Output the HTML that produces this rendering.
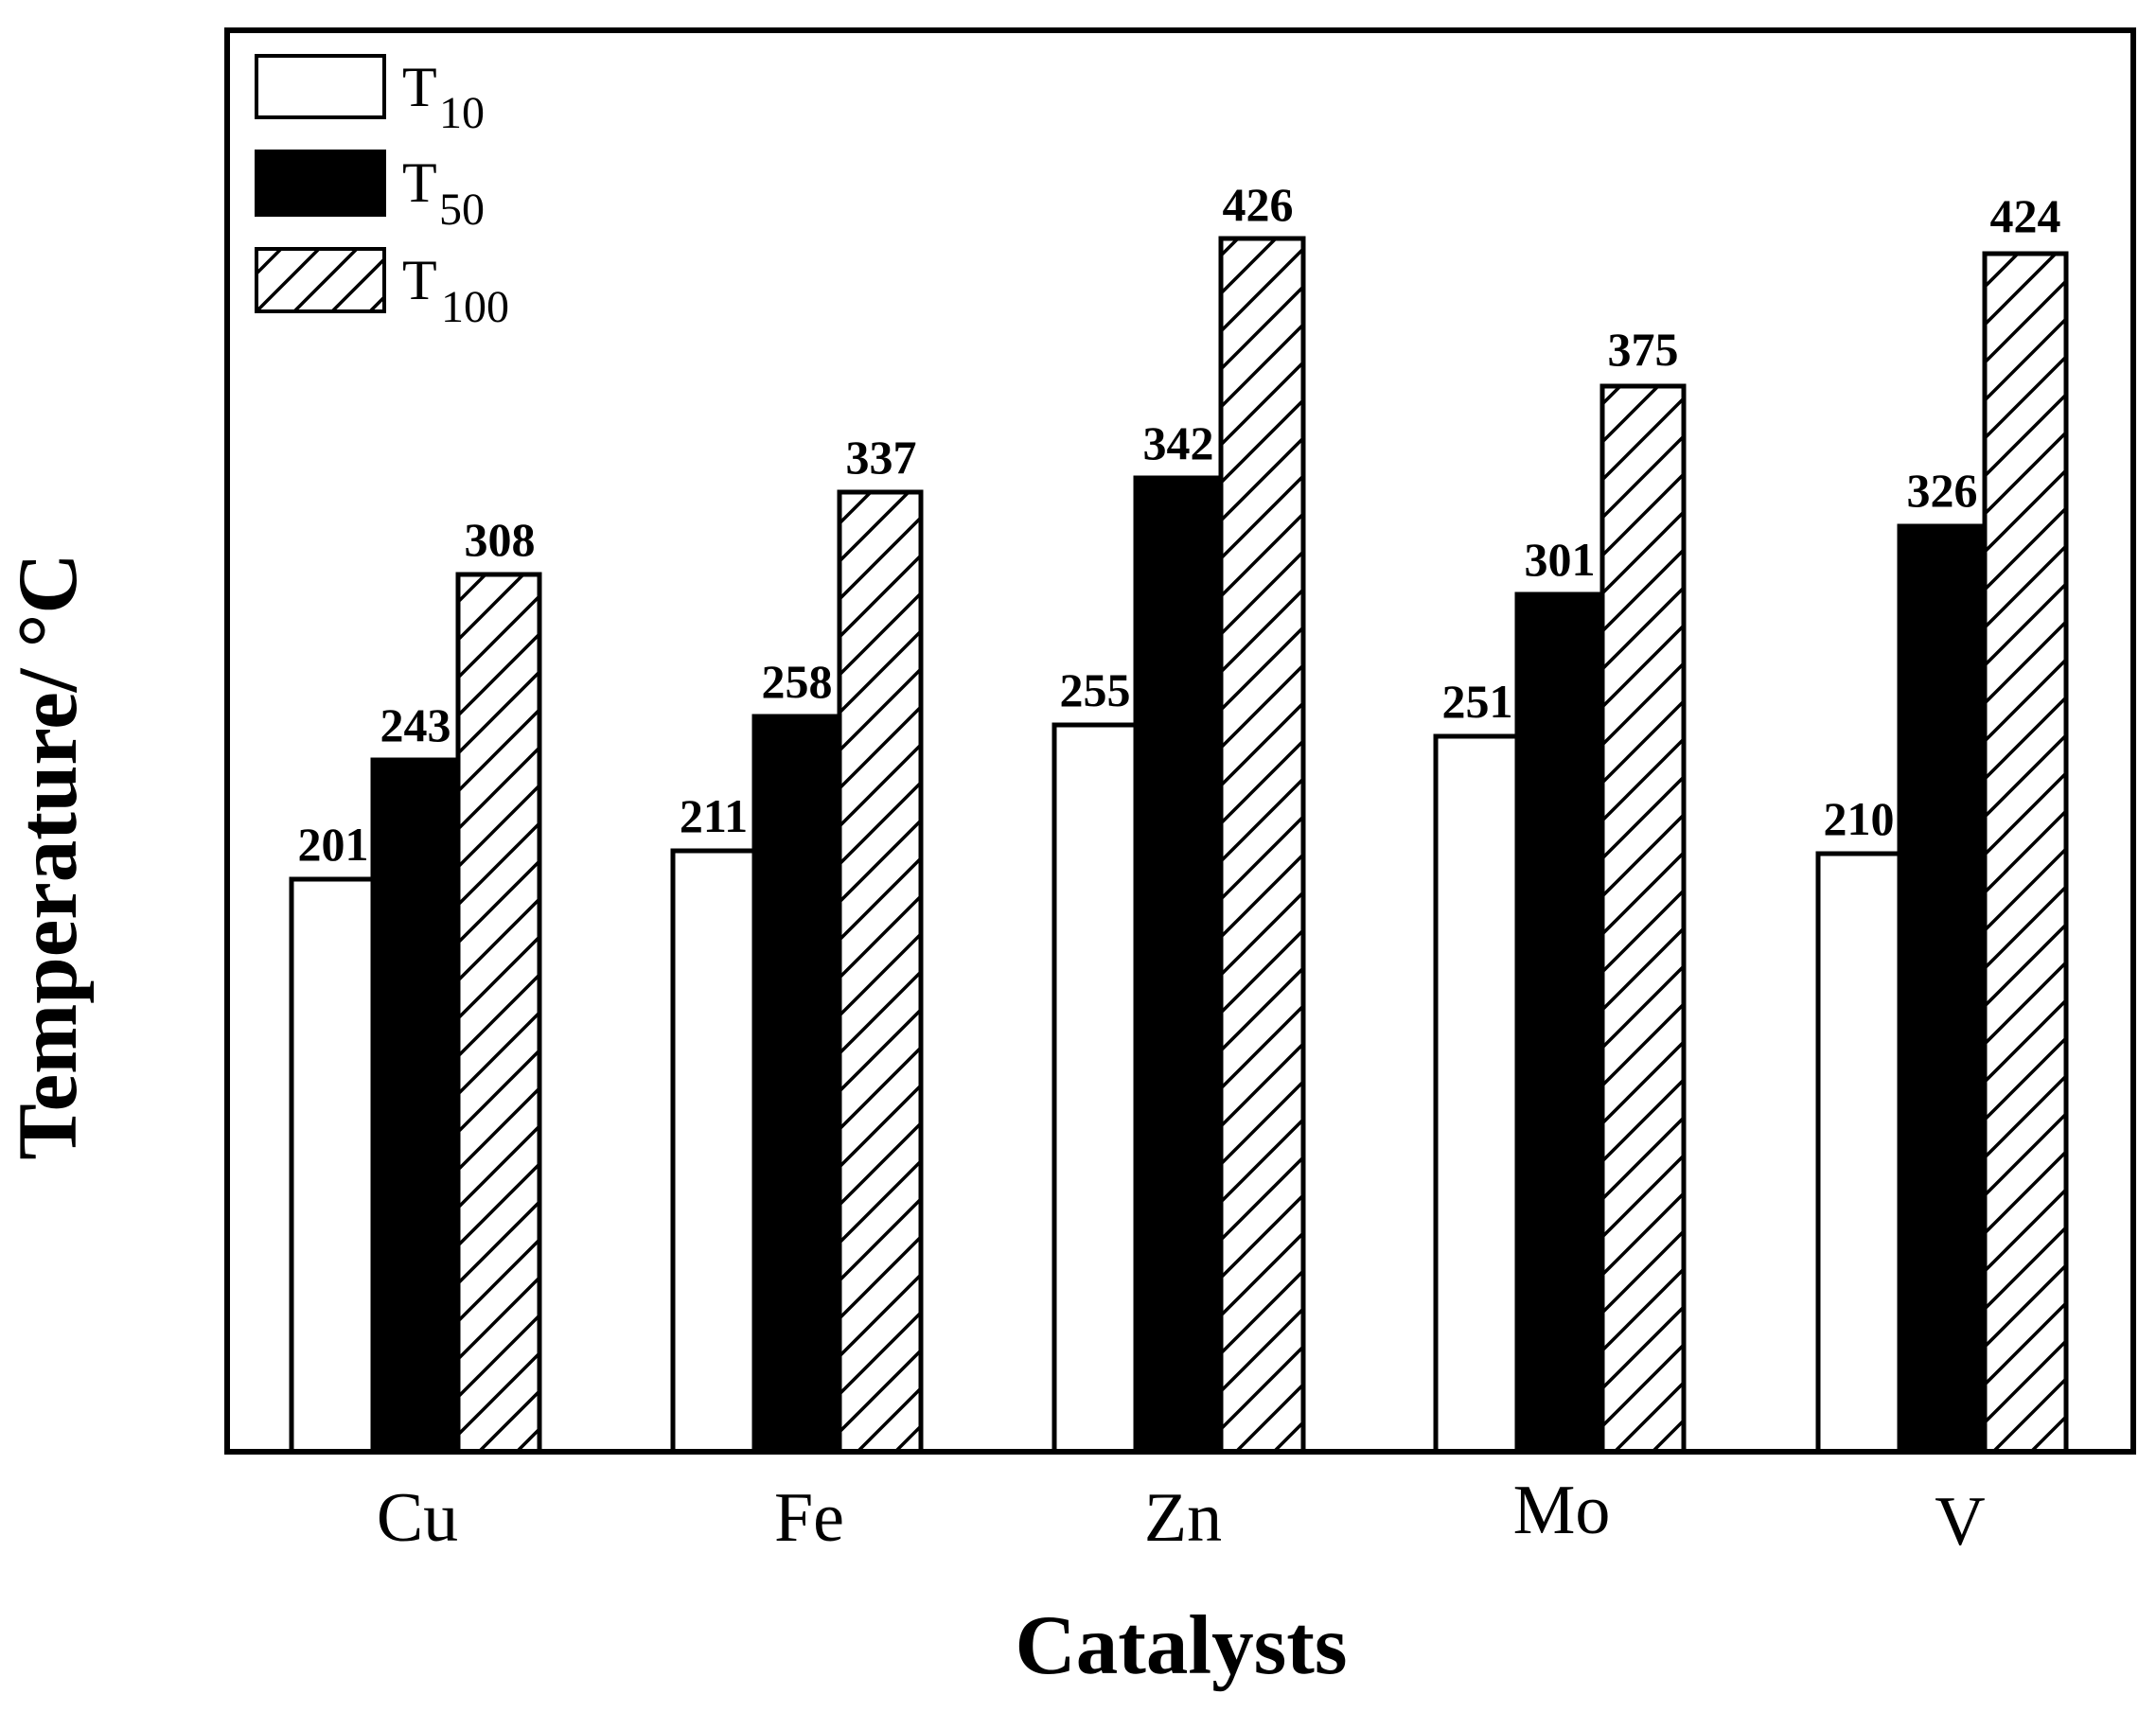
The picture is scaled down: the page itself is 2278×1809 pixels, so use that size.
<!DOCTYPE html>
<html><head><meta charset="utf-8"><style>
html,body{margin:0;padding:0;background:#fff;}
svg{display:block;}
text{font-family:"Liberation Serif","Times New Roman",serif;fill:#000;}
.v{font-weight:bold;font-size:50px;text-anchor:middle;}
.c{font-size:74px;text-anchor:middle;}
</style></head><body>
<svg width="2278" height="1809" viewBox="0 0 2278 1809" xmlns="http://www.w3.org/2000/svg">
<defs>
<pattern id="h" patternUnits="userSpaceOnUse" width="40" height="40">
<line x1="-10" y1="50" x2="50" y2="-10" stroke="#000" stroke-width="3.5"/>
<line x1="-30" y1="30" x2="30" y2="-30" stroke="#000" stroke-width="3.5"/>
<line x1="10" y1="70" x2="70" y2="10" stroke="#000" stroke-width="3.5"/>
</pattern>
</defs>
<rect width="2278" height="1809" fill="#fff"/>
<rect x="271" y="59" width="135" height="65" fill="#fff" stroke="#000" stroke-width="4"/>
<rect x="269" y="158" width="139" height="71" fill="#000"/>
<rect x="271" y="263" width="135" height="66" fill="url(#h)" stroke="#000" stroke-width="4"/>
<text x="425" y="112" font-size="60">T</text><text x="464" y="135" font-size="48">10</text>
<text x="425" y="213" font-size="60">T</text><text x="464" y="237" font-size="48">50</text>
<text x="425" y="316" font-size="60">T</text><text x="466" y="340" font-size="48">100</text>
<g stroke="#000" stroke-width="5">
<rect x="308" y="929" width="86" height="605" fill="#fff"/>
<rect x="394" y="803" width="88" height="731" fill="#000"/>
<rect x="484" y="607" width="86" height="927" fill="url(#h)"/>
<rect x="711" y="899" width="86" height="635" fill="#fff"/>
<rect x="797" y="757" width="88" height="777" fill="#000"/>
<rect x="887" y="520" width="86" height="1014" fill="url(#h)"/>
<rect x="1114" y="766" width="86" height="768" fill="#fff"/>
<rect x="1200" y="505" width="88" height="1029" fill="#000"/>
<rect x="1290" y="252" width="87" height="1282" fill="url(#h)"/>
<rect x="1517" y="778" width="86" height="756" fill="#fff"/>
<rect x="1603" y="628" width="88" height="906" fill="#000"/>
<rect x="1693" y="408" width="86" height="1126" fill="url(#h)"/>
<rect x="1921" y="902" width="86" height="632" fill="#fff"/>
<rect x="2007" y="556" width="90" height="978" fill="#000"/>
<rect x="2097" y="268" width="86" height="1266" fill="url(#h)"/>
</g>
<rect x="240" y="32" width="2014" height="1502" fill="none" stroke="#000" stroke-width="6"/>
<text class="v" x="352" y="909">201</text>
<text class="v" x="439" y="783">243</text>
<text class="v" x="528" y="587">308</text>
<text class="v" x="754" y="879">211</text>
<text class="v" x="842" y="737">258</text>
<text class="v" x="931" y="500">337</text>
<text class="v" x="1157" y="746">255</text>
<text class="v" x="1245" y="485">342</text>
<text class="v" x="1329" y="233">426</text>
<text class="v" x="1561" y="758">251</text>
<text class="v" x="1648" y="608">301</text>
<text class="v" x="1736" y="386">375</text>
<text class="v" x="1964" y="882">210</text>
<text class="v" x="2052" y="535">326</text>
<text class="v" x="2140" y="245">424</text>
<text class="c" x="441" y="1628">Cu</text>
<text class="c" x="855" y="1628">Fe</text>
<text class="c" x="1250" y="1628">Zn</text>
<text class="c" x="1650" y="1620">Mo</text>
<text class="c" x="2071" y="1632">V</text>
<text x="1248" y="1768" font-size="89" font-weight="bold" text-anchor="middle">Catalysts</text>
<text transform="translate(80,905) rotate(-90)" font-size="89" font-weight="bold" text-anchor="middle">Temperature/ °C</text>
</svg>
</body></html>
